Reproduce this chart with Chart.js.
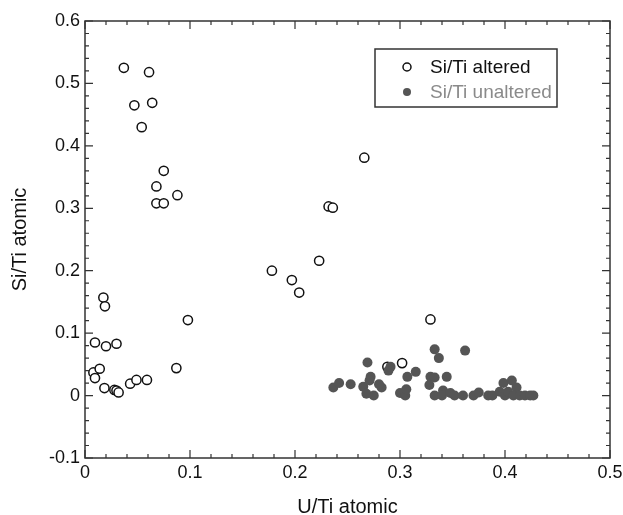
<!DOCTYPE html>
<html>
<head>
<meta charset="utf-8">
<script src="https://cdn.jsdelivr.net/npm/chart.js@4"></script>
<style>
  html, body { margin: 0; padding: 0; background: #fff; }
  #wrap { width: 623px; height: 515px; }
</style>
</head>
<body>
<div id="wrap"><canvas id="scatter"></canvas></div>
<script>
// Si/Ti vs U/Ti, altered samples (open circles)
const alteredU  = [0.037, 0.061, 0.047, 0.064, 0.054, 0.075, 0.068, 0.068, 0.075, 0.088,
                   0.266, 0.232, 0.236, 0.178, 0.197, 0.204, 0.223,
                   0.0175, 0.019, 0.098, 0.0095, 0.020, 0.030, 0.008, 0.014, 0.0095, 0.087,
                   0.0185, 0.028, 0.030, 0.032, 0.043, 0.049, 0.059,
                   0.329, 0.302, 0.288];
const alteredSi = [0.525, 0.518, 0.465, 0.469, 0.430, 0.360, 0.335, 0.308, 0.308, 0.321,
                   0.381, 0.303, 0.301, 0.200, 0.185, 0.165, 0.216,
                   0.157, 0.143, 0.121, 0.085, 0.079, 0.083, 0.037, 0.043, 0.028, 0.044,
                   0.012, 0.009, 0.008, 0.005, 0.019, 0.025, 0.025,
                   0.122, 0.052, 0.046];

// unaltered samples (filled grey dots)
const unalteredU  = [0.2365, 0.242, 0.253, 0.265, 0.269, 0.272, 0.271, 0.268, 0.275, 0.2825,
                     0.280, 0.289, 0.291, 0.300, 0.305, 0.306, 0.307, 0.315, 0.329, 0.333,
                     0.328, 0.333, 0.337, 0.362, 0.3445, 0.333, 0.341, 0.340, 0.348, 0.352,
                     0.360, 0.370, 0.375, 0.384, 0.388, 0.395, 0.3985, 0.400, 0.4065, 0.403,
                     0.411, 0.408, 0.414, 0.419, 0.424, 0.427];
const unalteredSi = [0.013, 0.020, 0.018, 0.014, 0.053, 0.030, 0.024, 0.003, 0.000, 0.013,
                     0.018, 0.040, 0.046, 0.004, 0.000, 0.010, 0.030, 0.038, 0.030, 0.029,
                     0.017, 0.074, 0.060, 0.072, 0.030, 0.000, 0.008, 0.000, 0.004, 0.000,
                     0.000, 0.000, 0.005, 0.000, 0.000, 0.006, 0.020, 0.000, 0.024, 0.006,
                     0.013, 0.000, 0.000, 0.000, 0.000, 0.000];

const xTicksMajor = [0, 0.1, 0.2, 0.3, 0.4, 0.5];
const yTicksMajor = [-0.1, 0, 0.1, 0.2, 0.3, 0.4, 0.5, 0.6];

const toPoints = (xs, ys) => xs.map((x, i) => ({ x: x, y: ys[i] }));
const fontFamily = '"Liberation Sans", Arial, Helvetica, sans-serif';

// frame with inward major/minor ticks on all four sides
const framePlugin = {
    id: 'frame',
    afterDatasetsDraw(chart) {
        const { ctx, chartArea: a, scales } = chart;
        const xs = scales.x, ys = scales.y;
        ctx.save();
        ctx.strokeStyle = '#333';
        ctx.lineWidth = 1.5;
        ctx.strokeRect(a.left, a.top, a.right - a.left, a.bottom - a.top);
        ctx.lineWidth = 1.2;
        ctx.beginPath();
        for (let i = 0; i <= 25; i++) {
            const v = i * 0.02;
            const len = i % 5 === 0 ? 8 : 4;
            const px = xs.getPixelForValue(v);
            ctx.moveTo(px, a.bottom); ctx.lineTo(px, a.bottom - len);
            ctx.moveTo(px, a.top); ctx.lineTo(px, a.top + len);
        }
        for (let i = 0; i <= 35; i++) {
            const v = -0.1 + i * 0.02;
            const len = i % 5 === 0 ? 8 : 4;
            const py = ys.getPixelForValue(v);
            ctx.moveTo(a.left, py); ctx.lineTo(a.left + len, py);
            ctx.moveTo(a.right, py); ctx.lineTo(a.right - len, py);
        }
        ctx.stroke();

        // legend box
        const bx = 375, by = 49, bw = 182, bh = 58;
        ctx.fillStyle = '#fff';
        ctx.fillRect(bx, by, bw, bh);
        ctx.lineWidth = 1.5;
        ctx.strokeStyle = '#333';
        ctx.strokeRect(bx, by, bw, bh);
        ctx.font = '19px ' + fontFamily;
        ctx.textBaseline = 'middle';
        const items = [
            { ds: chart.data.datasets[1], y: by + 18, color: '#111' },
            { ds: chart.data.datasets[0], y: by + 43, color: '#8a8a8a' }
        ];
        items.forEach(it => {
            ctx.beginPath();
            ctx.arc(bx + 32, it.y, 4, 0, Math.PI * 2);
            if (it.ds.backgroundColor === '#fff') {
                ctx.lineWidth = 1.5;
                ctx.strokeStyle = '#111';
                ctx.stroke();
            } else {
                ctx.fillStyle = it.ds.backgroundColor;
                ctx.fill();
            }
            ctx.fillStyle = it.color;
            ctx.fillText(it.ds.label, bx + 55, it.y + 1);
        });
        ctx.restore();
    }
};

new Chart(document.getElementById('scatter').getContext('2d'), {
    type: 'scatter',
    data: {
        datasets: [{
            label: 'Si/Ti unaltered',
            data: toPoints(unalteredU, unalteredSi),
            pointRadius: 5,
            pointBorderWidth: 0,
            backgroundColor: '#555',
            borderColor: '#555',
            order: 0
        }, {
            label: 'Si/Ti altered',
            data: toPoints(alteredU, alteredSi),
            pointRadius: 4.6,
            pointBorderWidth: 1.5,
            backgroundColor: '#fff',
            borderColor: '#111',
            order: 1
        }]
    },
    options: {
        responsive: true,
        maintainAspectRatio: false,
        animation: false,
        layout: { padding: { top: 21, right: 13, left: 0, bottom: 0 } },
        plugins: {
            legend: { display: false },
            tooltip: { enabled: false }
        },
        scales: {
            x: {
                type: 'linear',
                min: 0, max: 0.5,
                afterFit: s => { s.height = 57; s.paddingLeft = 0; s.paddingRight = 0; },
                afterBuildTicks: s => { s.ticks = xTicksMajor.map(v => ({ value: v })); },
                grid: { display: false, drawTicks: false, tickLength: 0 },
                border: { display: false },
                ticks: {
                    padding: 4,
                    color: '#111',
                    font: { family: fontFamily, size: 18 },
                    callback: v => String(Number(v.toFixed(2)))
                },
                title: {
                    display: true,
                    text: 'U/Ti atomic',
                    color: '#111',
                    font: { family: fontFamily, size: 20 },
                    padding: { top: 0, bottom: -4 }
                }
            },
            y: {
                type: 'linear',
                min: -0.1, max: 0.6,
                afterFit: s => { s.width = 85; s.paddingTop = 0; s.paddingBottom = 0; },
                afterBuildTicks: s => { s.ticks = yTicksMajor.map(v => ({ value: v })); },
                grid: { display: false, drawTicks: false, tickLength: 0 },
                border: { display: false },
                ticks: {
                    padding: 5,
                    color: '#111',
                    font: { family: fontFamily, size: 18 },
                    callback: v => String(Number(v.toFixed(2)))
                },
                title: {
                    display: true,
                    text: 'Si/Ti atomic',
                    color: '#111',
                    font: { family: fontFamily, size: 20 },
                    padding: { top: 8, bottom: 0 }
                }
            }
        }
    },
    plugins: [framePlugin]
});
</script>
</body>
</html>
